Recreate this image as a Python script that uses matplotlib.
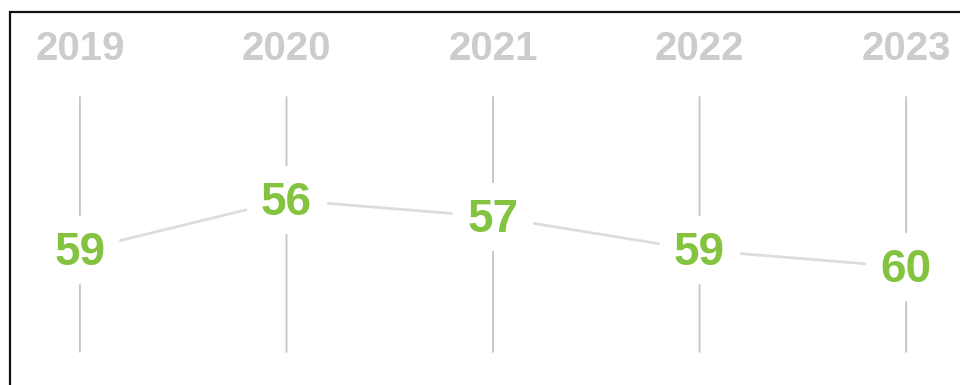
import matplotlib
matplotlib.use("Agg")
import matplotlib.pyplot as plt
from matplotlib.patches import Rectangle
from matplotlib.transforms import blended_transform_factory

years = ["2019", "2020", "2021", "2022", "2023"]
values = [59, 56, 57, 59, 60]

GREEN = "#84c340"
YEAR_GRAY = "#cccccc"
STEM_GRAY = "#c4c4c4"
LINK_GRAY = "#dddddd"

fig = plt.figure(figsize=(9.6, 3.85), dpi=100)
ax = fig.add_axes([0, 0, 1, 1])
ax.set_xlim(-0.387, 4.261)
ax.set_ylim(67.04, 44.06)  # inverted: lower values sit higher
ax.axis("off")

xs = list(range(len(years)))
xfrac = blended_transform_factory(ax.transData, ax.transAxes)

stem_top, stem_bottom = 0.748, 0.086
year_y = 0.873

for x, yr, v in zip(xs, years, values):
    # year header
    ax.text(x, year_y, yr, transform=xfrac, ha="center", va="center",
            fontsize=29, fontweight="bold", color=YEAR_GRAY,
            family="Liberation Sans")
    # vertical stem, broken around the value label
    y_top = ax.transData.inverted().transform(
        xfrac.transform((x, stem_top)))[1]
    y_bot = ax.transData.inverted().transform(
        xfrac.transform((x, stem_bottom)))[1]
    for end in (y_top, y_bot):
        ax.annotate("", xy=(x, v), xytext=(x, end),
                    arrowprops=dict(arrowstyle="-", color=STEM_GRAY, lw=1.3,
                                    shrinkA=0, shrinkB=25))
    # value label
    ax.annotate(str(v), xy=(x, v), xytext=(0, -2.2), textcoords="offset points",
                ha="center", va="center", fontsize=33, fontweight="bold",
                color=GREEN, family="Liberation Sans")

# connecting line between consecutive values, with gaps around labels
for i in range(len(xs) - 1):
    ax.annotate("", xy=(xs[i + 1], values[i + 1]), xytext=(xs[i], values[i]),
                arrowprops=dict(arrowstyle="-", color=LINK_GRAY, lw=2,
                                shrinkA=30, shrinkB=30))

# outer frame
fig.patches.append(Rectangle((10 / 960, -0.1), 1.2, (1 - 12 / 385) + 0.1,
                             transform=fig.transFigure, fill=False,
                             edgecolor="#111111", lw=1.6))

fig.savefig("out.png", dpi=100, facecolor="white")
